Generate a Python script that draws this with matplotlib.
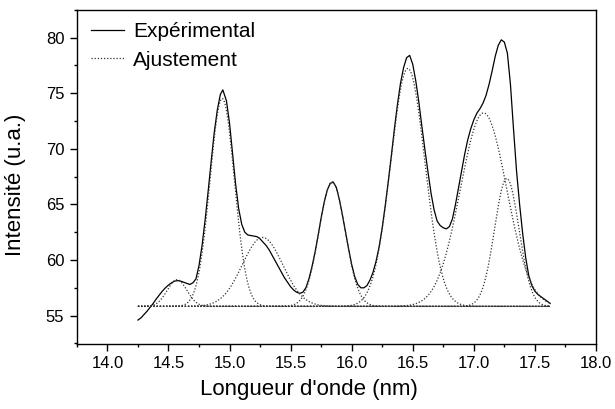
# Spectre expérimental et ajustement par gaussiennes
import numpy as np
import matplotlib
matplotlib.use('Agg')
import matplotlib.pyplot as plt
from matplotlib.ticker import MultipleLocator

plt.rcParams['font.family'] = ['Liberation Sans', 'DejaVu Sans']

wavelength = [14.25, 14.275, 14.30, 14.325, 14.35, 14.375, 14.40, 14.425, 14.45, 14.475,
              14.50, 14.525, 14.55, 14.575, 14.60, 14.625, 14.65, 14.675, 14.70, 14.725,
              14.75, 14.775, 14.80, 14.825, 14.85, 14.875, 14.90, 14.925, 14.945, 14.975,
              15.00, 15.025, 15.05, 15.075, 15.10, 15.125, 15.15, 15.175, 15.20, 15.225,
              15.25, 15.275, 15.30, 15.325, 15.35, 15.375, 15.40, 15.425, 15.45, 15.475,
              15.50, 15.525, 15.55, 15.575, 15.60, 15.625, 15.65, 15.675, 15.70, 15.725,
              15.75, 15.775, 15.80, 15.825, 15.85, 15.875, 15.90, 15.925, 15.95, 15.975,
              16.00, 16.025, 16.05, 16.075, 16.10, 16.125, 16.15, 16.175, 16.20, 16.225,
              16.25, 16.275, 16.30, 16.325, 16.35, 16.375, 16.40, 16.425, 16.45, 16.475,
              16.50, 16.525, 16.55, 16.575, 16.60, 16.625, 16.65, 16.675, 16.70, 16.725,
              16.75, 16.775, 16.80, 16.825, 16.85, 16.875, 16.90, 16.925, 16.95, 16.975,
              17.00, 17.025, 17.05, 17.075, 17.10, 17.125, 17.15, 17.175, 17.20, 17.225,
              17.25, 17.275, 17.30, 17.325, 17.35, 17.375, 17.40, 17.425, 17.45, 17.475,
              17.50, 17.525, 17.55, 17.575, 17.60, 17.625]
intensity = [54.6, 54.8, 55.1, 55.4, 55.75, 56.1, 56.5, 56.85, 57.2, 57.5,
             57.75, 57.95, 58.1, 58.15, 58.1, 58.0, 57.9, 57.8, 57.95, 58.3,
             59.5, 61.3, 63.6, 66.2, 68.9, 71.5, 73.5, 74.9, 75.3, 74.3,
             72.3, 69.5, 66.8, 64.6, 63.2, 62.5, 62.25, 62.2, 62.15, 62.1,
             61.9, 61.6, 61.3, 60.9, 60.4, 59.9, 59.4, 58.9, 58.4, 58.0,
             57.6, 57.3, 57.1, 57.0, 57.1, 57.5, 58.3, 59.4, 60.7, 62.2,
             63.8, 65.2, 66.3, 66.9, 67.0, 66.5, 65.4, 64.0, 62.5, 61.0,
             59.6, 58.5, 57.8, 57.5, 57.5, 57.7, 58.2, 58.9, 59.9, 61.2,
             62.9, 64.9, 67.1, 69.4, 71.8, 74.0, 75.9, 77.3, 78.2, 78.4,
             77.6, 76.1, 74.2, 72.0, 69.9, 67.9, 66.0, 64.5, 63.5, 63.1,
             62.9, 62.8, 63.0, 63.7, 65.0, 66.5, 68.0, 69.5, 70.8, 71.8,
             72.6, 73.2, 73.6, 74.1, 74.8, 75.8, 77.0, 78.3, 79.3, 79.8,
             79.6, 78.6, 75.8, 71.8, 68.0, 65.0, 62.4, 60.2, 58.6, 57.7,
             57.2, 56.9, 56.7, 56.5, 56.3, 56.1]

# Gaussian components of the fit (centre, height above baseline, width)
baseline = 55.83
peak_centres = [14.57, 14.94, 15.27, 15.84, 16.46, 17.08, 17.27]
peak_heights = [2.4, 18.7, 6.2, 11.2, 21.4, 17.4, 11.5]
peak_widths = [0.08, 0.10, 0.165, 0.107, 0.14, 0.19, 0.10]

x_fit = np.linspace(14.25, 17.625, 400)

fig, ax = plt.subplots(figsize=(6.15, 4.09), dpi=100)
fig.subplots_adjust(left=0.125, right=0.969, top=0.976, bottom=0.159)

ax.plot(wavelength, intensity, color='black', lw=0.9, label='Expérimental')
for i, (c, h, w) in enumerate(zip(peak_centres, peak_heights, peak_widths)):
    y_fit = baseline + h * np.exp(-(x_fit - c) ** 2 / (2 * w ** 2))
    ax.plot(x_fit, y_fit, color='#333333', lw=0.9, linestyle=(0, (1, 1.5)),
            label='Ajustement' if i == 0 else None)

ax.set_xlim(13.75, 18.0)
ax.set_ylim(52.45, 82.5)
ax.xaxis.set_minor_locator(MultipleLocator(0.25))
ax.yaxis.set_major_locator(MultipleLocator(5))
ax.yaxis.set_minor_locator(MultipleLocator(2.5))
ax.set_xticks([14.0, 14.5, 15.0, 15.5, 16.0, 16.5, 17.0, 17.5, 18.0])
ax.xaxis.set_major_formatter(plt.FormatStrFormatter('%.1f'))
ax.tick_params(which='major', direction='out', length=5, width=1, labelsize=12, pad=4)
ax.tick_params(which='minor', direction='out', length=2.5, width=1)
for sp in ax.spines.values():
    sp.set_linewidth(1)

ax.set_xlabel('Longueur d\'onde (nm)', fontsize=16, labelpad=6)
ax.set_ylabel('Intensité (u.a.)', fontsize=16, labelpad=10)
ax.xaxis.set_label_coords(0.447, -0.105)
ax.yaxis.set_label_coords(-0.098, 0.476)

ax.legend(loc='upper left', bbox_to_anchor=(0.027, 0.963), frameon=False,
          fontsize=15, handlelength=1.6, handletextpad=0.42, labelspacing=0.45,
          borderpad=0, borderaxespad=0)

plt.savefig('out.png', dpi=100)
